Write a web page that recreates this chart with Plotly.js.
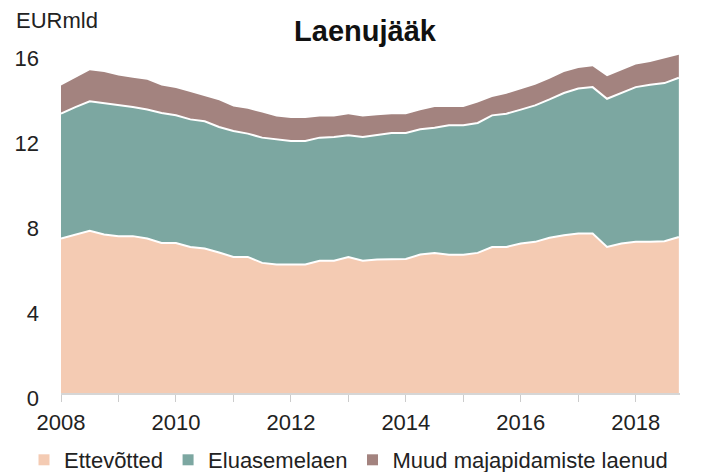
<!DOCTYPE html>
<html>
<head>
<meta charset="utf-8">
<script src="https://cdn.plot.ly/plotly-3.0.1.min.js"></script>
<style>html,body{margin:0;padding:0;background:#fff;}#chart{width:708px;height:472px;}</style>
</head>
<body>
<div id="chart"></div>
<script>
// Quarterly periods 2008 Q1 .. 2018 Q4 (decimal year)
var quarters = [
  2008.00,2008.25,2008.50,2008.75,2009.00,2009.25,2009.50,2009.75,
  2010.00,2010.25,2010.50,2010.75,2011.00,2011.25,2011.50,2011.75,
  2012.00,2012.25,2012.50,2012.75,2013.00,2013.25,2013.50,2013.75,
  2014.00,2014.25,2014.50,2014.75,2015.00,2015.25,2015.50,2015.75,
  2016.00,2016.25,2016.50,2016.75,2017.00,2017.25,2017.50,2017.75,
  2018.00,2018.25,2018.50,2018.75
];
// EUR bn
var ettevotted = [
  7.28,7.47,7.64,7.47,7.39,7.39,7.28,7.07,7.07,6.88,6.81,6.62,
  6.41,6.41,6.13,6.05,6.05,6.05,6.23,6.23,6.41,6.23,6.29,6.31,
  6.31,6.52,6.60,6.51,6.51,6.60,6.88,6.88,7.04,7.12,7.31,7.43,
  7.51,7.51,6.88,7.04,7.12,7.12,7.15,7.35
];
var eluasemelaen = [
  5.88,6.00,6.10,6.19,6.19,6.08,6.08,6.12,6.01,6.01,5.99,5.91,
  5.93,5.81,5.90,5.90,5.82,5.82,5.80,5.83,5.73,5.83,5.88,5.94,
  5.94,5.90,5.90,6.10,6.10,6.12,6.20,6.28,6.31,6.43,6.52,6.70,
  6.83,6.90,6.98,7.11,7.29,7.40,7.45,7.50
];
var muud = [
  1.33,1.38,1.46,1.46,1.38,1.38,1.40,1.30,1.29,1.29,1.19,1.26,
  1.16,1.17,1.18,1.08,1.08,1.08,1.00,0.97,0.99,0.97,0.91,0.88,
  0.88,0.90,0.97,0.86,0.86,0.96,0.86,0.94,0.95,0.97,0.98,0.99,
  0.97,0.98,1.06,1.05,1.07,1.07,1.15,1.09
];
var seriesNames = ["Ettevõtted", "Eluasemelaen", "Muud majapidamiste laenud"];
var seriesColors = ["#F4CBB3", "#7CA7A1", "#A3837F"];
var yTicks = [0, 4, 8, 12, 16];
var xTicks = [2008, 2010, 2012, 2014, 2016, 2018];

var values = [ettevotted, eluasemelaen, muud];
var traces = [];
values.forEach(function (v, i) {
  traces.push({
    x: quarters, y: v, type: "scatter", mode: "lines",
    stackgroup: "one", fillcolor: seriesColors[i],
    line: {color: "#ffffff", width: i < 2 ? 2 : 0},
    showlegend: false, hoverinfo: "skip"
  });
});
values.forEach(function (v, i) {
  traces.push({
    x: [null], y: [null], type: "scatter", mode: "markers",
    name: seriesNames[i],
    marker: {symbol: "square", size: 11, color: seriesColors[i]},
    showlegend: true, hoverinfo: "skip"
  });
});

var font = {family: "Liberation Sans, Arial, sans-serif", color: "#222222"};
var plotTop = 47, plotBottom = 393, plotLeft = 61, plotRight = 680;
var plotH = plotBottom - plotTop, plotW = plotRight - plotLeft;
var layout = {
  width: 708, height: 472,
  margin: {l: plotLeft, r: 708 - plotRight, t: plotTop, b: 472 - plotBottom, pad: 0, autoexpand: false},
  paper_bgcolor: "#ffffff", plot_bgcolor: "#ffffff",
  font: font,
  showlegend: true,
  title: {
    text: "<b>Laenujääk</b>",
    font: {family: font.family, size: 29, color: "#111111"},
    xref: "container", x: 365 / 708, xanchor: "center",
    yref: "container", y: 1 - 31 / 472, yanchor: "middle"
  },
  xaxis: {
    range: [2008, 2018.77],
    tickvals: xTicks, ticktext: xTicks.map(String),
    ticks: "outside", ticklen: 7, tickwidth: 1, tickcolor: "#cccccc",
    minor: {dtick: 1, tick0: 2008, ticks: "outside", ticklen: 7, tickwidth: 1, tickcolor: "#cccccc"},
    showline: true, linecolor: "#d6d6d6", linewidth: 1.5,
    showgrid: false, zeroline: false,
    tickfont: {family: font.family, size: 22, color: "#222222"},
    ticklabelstandoff: 2,
    fixedrange: true
  },
  yaxis: {
    range: [0, 16.3],
    tickvals: yTicks, ticktext: yTicks.map(String),
    ticks: "", showline: false, showgrid: false, zeroline: false,
    tickfont: {family: font.family, size: 22, color: "#222222"},
    ticklabelstandoff: 21,
    ticklabelshift: 5,
    fixedrange: true
  },
  legend: {
    orientation: "h", traceorder: "normal",
    xref: "paper", x: (24 - plotLeft) / plotW, xanchor: "left",
    yref: "paper", y: (plotBottom - 460) / plotH, yanchor: "middle",
    font: {family: font.family, size: 22, color: "#222222"},
    itemwidth: 30, tracegroupgap: 0,
    bgcolor: "rgba(0,0,0,0)"
  },
  annotations: [{
    text: "EURmld", showarrow: false,
    xref: "paper", x: (14 - plotLeft) / plotW, xanchor: "left",
    yref: "paper", y: (plotBottom - 20) / plotH, yanchor: "middle",
    font: {family: font.family, size: 22, color: "#222222"}
  }]
};

Plotly.newPlot("chart", traces, layout, {displayModeBar: false, staticPlot: true});
</script>
</body>
</html>
